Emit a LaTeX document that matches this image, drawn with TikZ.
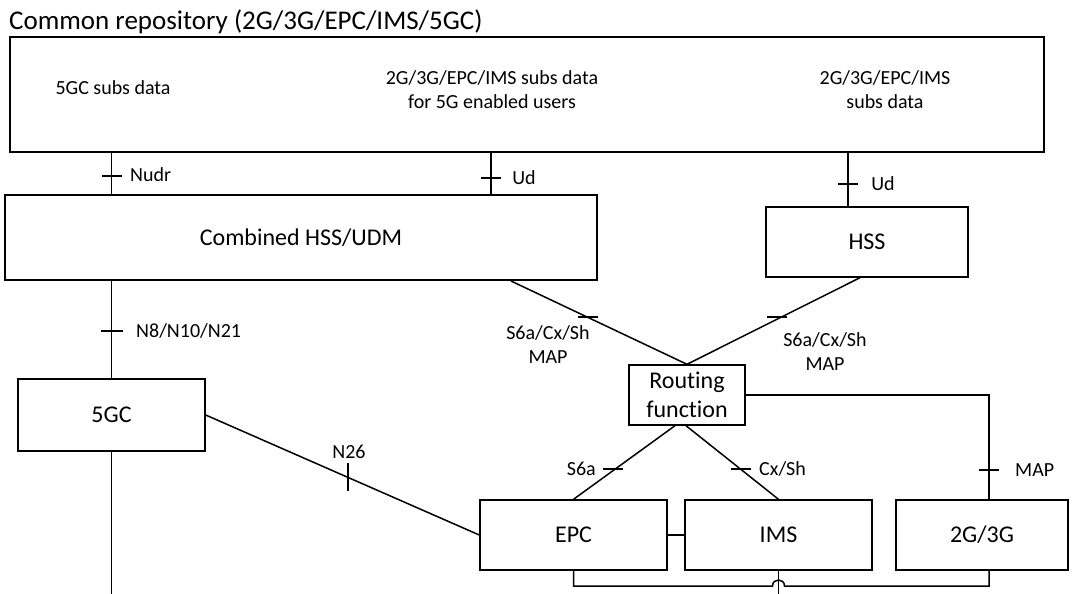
\documentclass[tikz,border=0pt]{standalone}
\usepackage{fontspec}
\setmainfont{Carlito}[Ligatures=NoCommon]
\begin{document}
\begin{tikzpicture}[x=1pt,y=-1pt,
  box/.style={draw,line width=1.4pt,inner sep=0pt,font=\fontsize{24}{29}\selectfont,align=center},
  bigbox/.style={draw,line width=2pt,inner sep=0pt},
  lab/.style={inner sep=0pt,font=\fontsize{20}{24}\selectfont,align=center},
  conn/.style={line width=1.5pt},
  tick/.style={line width=1.5pt}]
\useasboundingbox (0,0) rectangle (1072,594);
% title
\node[inner sep=0pt,anchor=west,font=\fontsize{27}{31}\selectfont] (title) at (9,22) {Common repository (2G/3G/EPC/IMS/5GC)};
% nodes
\node[bigbox,minimum width=1034pt,minimum height=115pt] (repo) at (527,94.5) {};
\node[lab] (t1) at (113,88) {5GC subs data};
\node[lab] (t2) at (492,90) {2G/3G/EPC/IMS subs data\\for 5G enabled users};
\node[lab] (t3) at (885,90) {2G/3G/EPC/IMS\\subs data};
\node[box,line width=2pt,minimum width=592pt,minimum height=85pt] (comb) at (301,237.5) {Combined HSS/UDM};
\node[box,minimum width=202pt,minimum height=70pt] (hss) at (867,242) {HSS};
\node[box,minimum width=116pt,minimum height=60pt] (rf) at (687,395) {Routing\\function};
\node[box,minimum width=187pt,minimum height=72pt] (fivegc) at (111.5,415) {5GC};
\node[box,minimum width=187pt,minimum height=70pt] (epc) at (573.5,535) {EPC};
\node[box,minimum width=187pt,minimum height=70pt] (ims) at (778.5,535) {IMS};
\node[box,minimum width=172pt,minimum height=70pt] (gg) at (982,535) {2G/3G};
% helper coordinates
\coordinate (udx) at (491,0);
\coordinate (hudx) at (848,0);
\coordinate (combx) at (511,0);
\coordinate (hssx) at (860,0);
\coordinate (ggx) at (989,0);
\coordinate (botline) at (0,586);
\coordinate (bot) at (0,594);
\coordinate (rfl) at (675,0);
\coordinate (rfr) at (686,0);
% connectors
\draw[conn] (repo.south -| fivegc) -- (comb.north -| fivegc);
\draw[conn] (repo.south -| udx) -- (comb.north -| udx);
\draw[conn] (repo.south -| hudx) -- (hss.north -| hudx);
\draw[conn] (comb.south -| fivegc) -- (fivegc.north);
\draw[conn] (fivegc.south) -- (fivegc.south |- bot);
\draw[conn] (comb.south -| combx) -- (rf.north);
\draw[conn] (hss.south -| hssx) -- (rf.north);
\draw[conn] (rf.south -| rfl) -- (epc.north);
\draw[conn] (rf.south -| rfr) -- (ims.north);
\draw[conn] (rf.east) -- (rf.east -| ggx) -- (gg.north -| ggx);
\draw[conn] (fivegc.east) -- (epc.west);
\draw[conn] (epc.east) -- (ims.west);
\draw[conn] (epc.south) -- (epc.south |- botline) -- ([xshift=-6pt]ims.south |- botline)
  .. controls ([xshift=-6pt,yshift=8pt]ims.south |- botline) and ([xshift=6pt,yshift=8pt]ims.south |- botline) .. ([xshift=6pt]ims.south |- botline)
  -- (ggx |- botline) -- (gg.south -| ggx);
\draw[conn] (ims.south) -- (ims.south |- bot);
% ticks
\draw[tick] (102,176) -- (122,176);
\draw[tick] (481,178) -- (501,178);
\draw[tick] (838,184) -- (858,184);
\draw[tick] (101,331) -- (123,331);
\draw[tick] (348,463) -- (348,491);
\draw[tick] (578,317) -- (598,317);
\draw[tick] (767,317) -- (787,317);
\draw[tick] (603,469) -- (623,469);
\draw[tick] (731,469) -- (751,469);
\draw[tick] (979,470) -- (999,470);
% labels
\node[lab,anchor=west] (lnudr) at (130,175) {Nudr};
\node[lab] (lud1) at (524,178) {Ud};
\node[lab] (lud2) at (883,184) {Ud};
\node[lab,anchor=west] (ln8) at (136,331) {N8/N10/N21};
\node[lab] (ln26) at (349,452) {N26};
\node[lab] (ls6l) at (548,345) {S6a/Cx/Sh\\MAP};
\node[lab] (ls6r) at (825,352) {S6a/Cx/Sh\\MAP};
\node[lab,anchor=east] (ls6a) at (596,469) {S6a};
\node[lab,anchor=west] (lcx) at (759,469) {Cx/Sh};
\node[lab,anchor=west] (lmap) at (1015,470) {MAP};
\end{tikzpicture}
\end{document}
